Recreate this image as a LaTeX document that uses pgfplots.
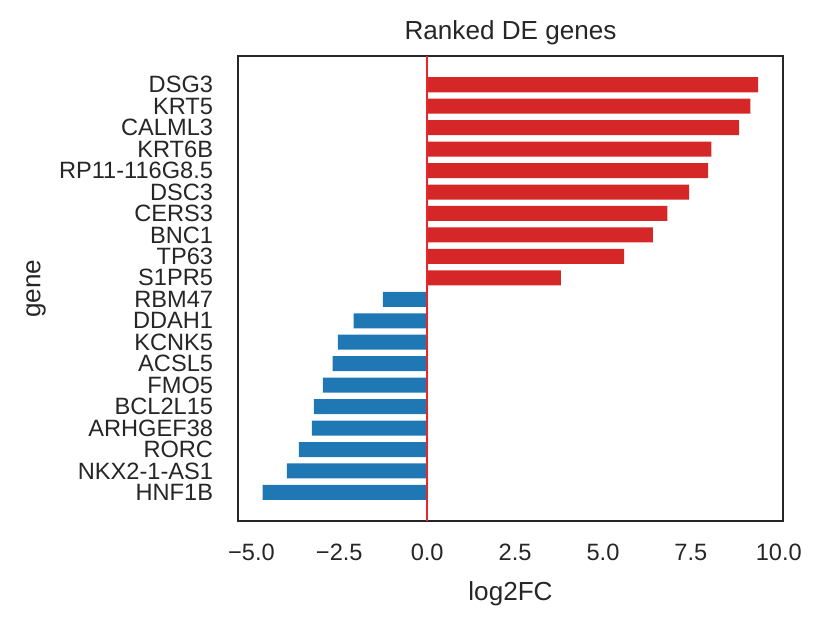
\documentclass[border=0pt]{standalone}
\usepackage{pgfplots}
\pgfplotsset{compat=1.18}
\usepackage{fontspec}
\setmainfont{Liberation Sans}
\definecolor{txt}{HTML}{262626}
\definecolor{posred}{HTML}{D62728}
\definecolor{negblue}{HTML}{1F77B4}
\definecolor{zline}{HTML}{E8262B}
\begin{document}
\begin{tikzpicture}
\begin{axis}[
  name=ax,
  scale only axis,
  width=196.2pt, height=167.4pt,
  xmin=-5.38, xmax=10.12,
  ymin=-1.335, ymax=20.335,
  axis line style={txt, line width=0.9pt},
  major tick length=0pt,
  xtick={-5,-2.5,0,2.5,5,7.5,10},
  xticklabels={−5.0,−2.5,0.0,2.5,5.0,7.5,10.0},
  ytick={0,...,19},
  yticklabels={HNF1B,NKX2-1-AS1,RORC,ARHGEF38,BCL2L15,FMO5,ACSL5,KCNK5,DDAH1,RBM47,S1PR5,TP63,BNC1,CERS3,DSC3,RP11-116G8.5,KRT6B,CALML3,KRT5,DSG3},
  xticklabel style={font=\fontsize{8.5}{9}\selectfont, text=txt, inner sep=0pt, anchor=north, yshift=-8pt},
  yticklabel style={font=\fontsize{8.5}{9}\selectfont, text=txt, inner sep=0pt, anchor=east, xshift=-8.8pt},
  xlabel={log2FC},
  ylabel={gene},
  title={Ranked DE genes},
  xlabel style={font=\fontsize{9.4}{11}\selectfont, text=txt, at={(axis description cs:0.5,0)}, anchor=center, yshift=-26pt},
  ylabel style={font=\fontsize{9.4}{11}\selectfont, text=txt, at={(axis description cs:0,0.5)}, anchor=center, rotate=0, xshift=0pt, yshift=72.7pt},
  title style={font=\fontsize{9.4}{11}\selectfont, text=txt, at={(axis description cs:0.5,1)}, anchor=center, yshift=2.4pt},
  xbar, bar shift=0pt, bar width=0.7,
  clip=true,
]
\addplot[fill=posred, draw=none] coordinates {
  (9.41,19) (9.19,18) (8.87,17) (8.08,16) (7.99,15)
  (7.45,14) (6.83,13) (6.42,12) (5.60,11) (3.80,10)
};
\addplot[fill=negblue, draw=none] coordinates {
  (-1.26,9) (-2.09,8) (-2.54,7) (-2.69,6) (-2.97,5)
  (-3.22,4) (-3.28,3) (-3.65,2) (-3.99,1) (-4.68,0)
};
\addplot[sharp plot, zline, line width=0.75pt, forget plot] coordinates {(0,-1.335) (0,20.335)};
\end{axis}
\pgfresetboundingbox
\path[use as bounding box] ([xshift=-85.7pt,yshift=-36.7pt]ax.south west) rectangle ++(296.3pt,224.3pt);
\end{tikzpicture}
\end{document}
